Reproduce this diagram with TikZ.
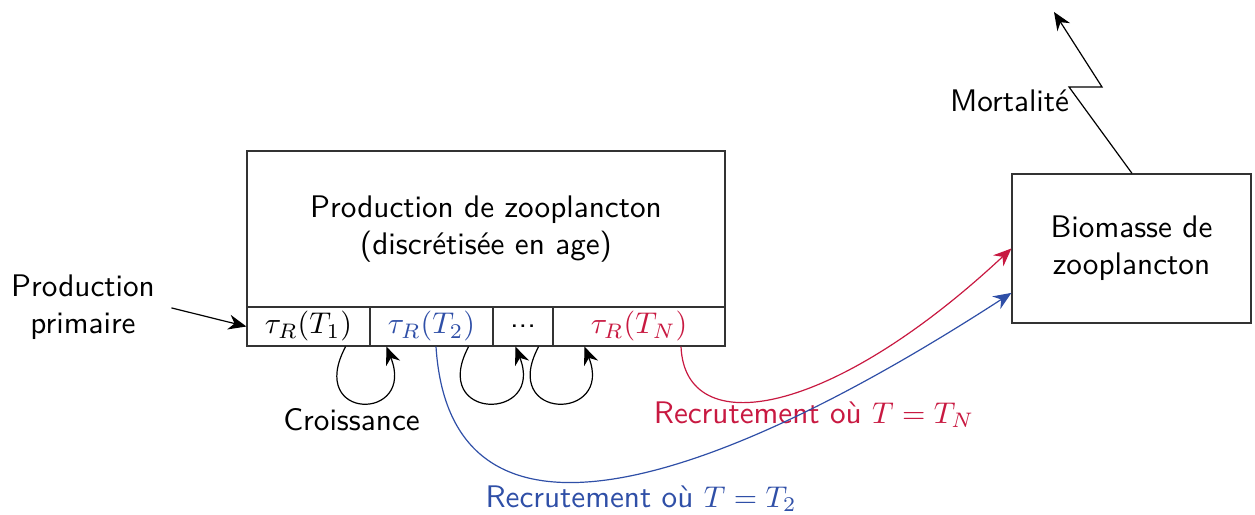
\documentclass[tikz,border=0pt]{standalone}
\usetikzlibrary{arrows.meta}
\definecolor{cblue}{RGB}{47,79,167}
\definecolor{cred}{RGB}{200,25,65}
\begin{document}
\begin{tikzpicture}[x=0.33333pt,y=-0.33333pt, line width=0.4pt,
  every node/.style={font=\sffamily\fontsize{10.4pt}{12.4pt}\selectfont},
  box/.style={draw=black!80, inner sep=0pt, align=center},
  cell/.style={draw=black!80, inner sep=0pt, minimum height=13pt},
  arr/.style={-{Stealth[length=6pt,width=5pt]}}]
\useasboundingbox (0,0) rectangle (1255,515);
% main box
\node[box, minimum width=159.33pt, minimum height=52pt] (prod) at (486,229) {Production de zooplancton\\(discrétisée en age)};
\node[cell, minimum width=41pt] (c1) at (308.5,326.5) {$\tau_R(T_1)$};
\node[cell, minimum width=41pt, text=cblue] (c2) at (431.5,326.5) {$\tau_R(T_2)$};
\node[cell, minimum width=20pt] (c3) at (523,326.5) {...};
\node[cell, minimum width=57.33pt, text=cred] (c4) at (639,326.5) {$\tau_R(T_N)$};
% biomass box
\node[box, minimum width=79.67pt, minimum height=49.67pt] (bm) at (1131.5,248.5) {Biomasse de\\zooplancton};
% labels
\node[align=center] (pp) at (83,307) {Production\\primaire};
\node[anchor=base] (cr) at (351.5,430) {Croissance};
\node[anchor=base] (mo) at (1009.5,112) {Mortalité};
\node[anchor=base, text=cred] (rn) at (814,423) {Recrutement où $T=T_N$};
\node[anchor=base, text=cblue] (r2) at (641,507) {Recrutement où $T=T_2$};
\coordinate (mtop) at (1054,12);
% connectors
\draw[arr] ([xshift=2pt,yshift=-0.3pt]pp.east) -- (c1.west);
\draw[arr] ([xshift=-8.33pt]c1.south east) .. controls +(-40,75) and +(30,75) .. ([xshift=5.67pt]c2.south west);
\draw[arr] ([xshift=-8.33pt]c2.south east) .. controls +(-40,75) and +(30,75) .. ([xshift=7.67pt]c3.south west);
\draw[arr] ([xshift=-5pt]c3.south east) .. controls +(-40,75) and +(30,75) .. ([xshift=10.67pt]c4.south west);
\draw[arr, cblue] ([xshift=1.5pt]c2.south) .. controls +(14,220) and +(-315,204) .. ([yshift=-14.8pt]bm.west);
\draw[arr, cred] ([xshift=14pt]c4.south) .. controls +(4,95) and +(-182,170) .. (bm.west);
\draw[arr] ([xshift=0.17pt]bm.north) -- (1069,87) -- (1102,87) -- (mtop);
\end{tikzpicture}
\end{document}
